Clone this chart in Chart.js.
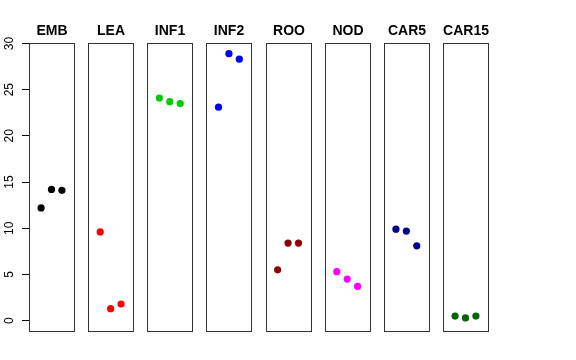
<!DOCTYPE html>
<html><head><meta charset="utf-8">
<script src="https://cdn.jsdelivr.net/npm/chart.js@4.4.1/dist/chart.umd.min.js"></script>
<style>html,body{margin:0;padding:0;background:#fff}#wrap{width:576px;height:360px;position:relative}</style>
</head><body><div id="wrap"><canvas id="c" width="576" height="360"></canvas></div>
<script>
// ---- data ----
const categories = ['EMB', 'LEA', 'INF1', 'INF2', 'ROO', 'NOD', 'CAR5', 'CAR15'];
const pointColors = ['#000000', '#FF0000', '#00CD00', '#0000FF', '#8B0000', '#FF00FF', '#00008B', '#006400'];
const embValues  = [12.2, 14.2, 14.1];
const leaValues  = [9.6, 1.3, 1.8];
const inf1Values = [24.1, 23.7, 23.5];
const inf2Values = [23.1, 28.9, 28.3];
const rooValues  = [5.5, 8.4, 8.4];
const nodValues  = [5.3, 4.5, 3.7];
const car5Values = [9.9, 9.7, 8.1];
const car15Values = [0.5, 0.3, 0.5];
const yTicks = [0, 5, 10, 15, 20, 25, 30];

const seriesValues = [embValues, leaValues, inf1Values, inf2Values, rooValues, nodValues, car5Values, car15Values];

// ---- layout helpers ----
const STEP = 5.674;   // panel step in x units
const PAD = 0.16;     // panel padding around replicates 1..3
const PANEL_W = 4 + 2 * PAD;

const datasets = seriesValues.map((vals, i) => ({
  label: categories[i],
  data: vals.map((v, r) => ({ x: i * STEP + (r + 1), y: v })),
  backgroundColor: pointColors[i],
  borderWidth: 0,
  pointRadius: 3.6,
  pointHoverRadius: 3.6
}));

const panelPlugin = {
  id: 'panels',
  beforeDatasetsDraw(chart) {
    const { ctx, scales: { x, y }, chartArea } = chart;
    ctx.save();
    ctx.strokeStyle = '#333';
    ctx.lineWidth = 1;
    categories.forEach((cat, i) => {
      const x0 = Math.round(x.getPixelForValue(i * STEP - PAD)) + 0.5;
      const x1 = Math.round(x.getPixelForValue(i * STEP - PAD + PANEL_W)) + 0.5;
      const y0 = Math.round(chartArea.top) + 0.5;
      const y1 = Math.round(chartArea.bottom) + 0.5;
      ctx.strokeRect(x0, y0, x1 - x0, y1 - y0);
      ctx.fillStyle = '#000';
      ctx.font = 'bold 14px "Liberation Sans", Arial, sans-serif';
      ctx.textAlign = 'center';
      ctx.textBaseline = 'alphabetic';
      ctx.fillText(cat, (x0 + x1) / 2, 34.5);
    });
    ctx.restore();
  },
  afterDraw(chart) {
    const { ctx, scales: { y } } = chart;
    ctx.save();
    ctx.fillStyle = '#000';
    ctx.font = '12px "Liberation Sans", Arial, sans-serif';
    ctx.textAlign = 'center';
    ctx.textBaseline = 'alphabetic';
    yTicks.forEach(v => {
      const py = y.getPixelForValue(v);
      ctx.save();
      ctx.translate(13.3, py);
      ctx.rotate(-Math.PI / 2);
      ctx.fillText(String(v), 0, 0);
      ctx.restore();
    });
    ctx.restore();
  }
};

new Chart(document.getElementById('c'), {
  type: 'scatter',
  data: { datasets },
  plugins: [panelPlugin],
  options: {
    responsive: false,
    animation: false,
    layout: { padding: { left: 0, top: 43, right: 88, bottom: 29 } },
    plugins: { legend: { display: false }, tooltip: { enabled: false } },
    scales: {
      x: {
        type: 'linear', display: false,
        min: -PAD, max: 7 * STEP - PAD + PANEL_W
      },
      y: {
        type: 'linear',
        min: -1.12, max: 30.05,
        afterBuildTicks: s => { s.ticks = yTicks.map(v => ({ value: v })); },
        afterFit: s => { s.width = 29; },
        ticks: { display: false },
        grid: { drawOnChartArea: false, tickLength: 7, color: '#000', lineWidth: 1 },
        border: { display: true, color: '#333', width: 1 }
      }
    }
  }
});
</script></body></html>
